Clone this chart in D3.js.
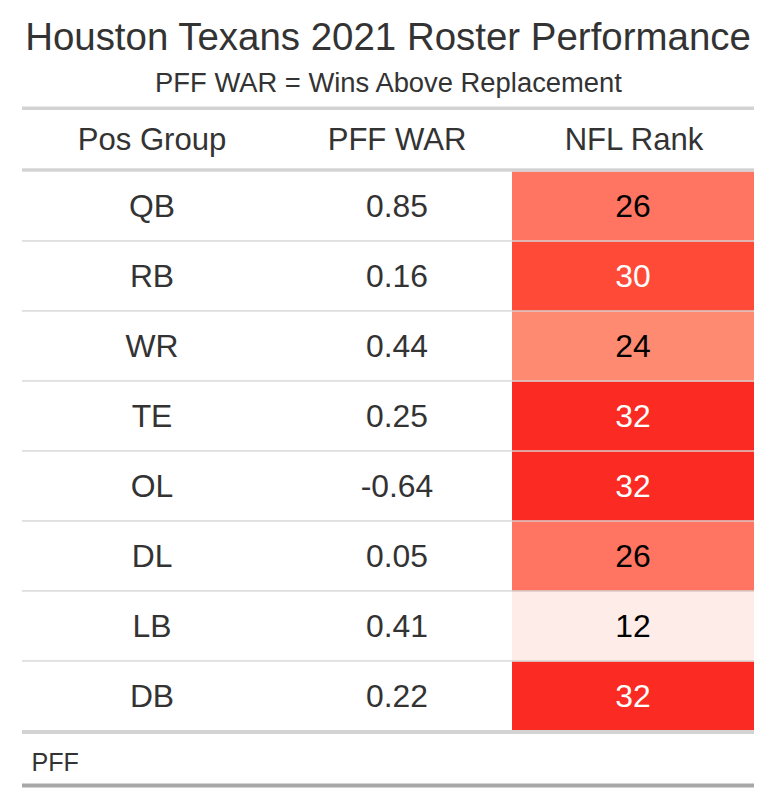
<!DOCTYPE html>
<html>
<head>
<meta charset="utf-8">
<script src="https://cdn.jsdelivr.net/npm/d3@7"></script>
<style>
  html, body { margin: 0; padding: 0; background: #ffffff; }
  svg text { font-family: "Liberation Sans", Arial, Helvetica, sans-serif; }
</style>
</head>
<body>
<div id="chart"></div>
<script>
// ---- data ----
const title = "Houston Texans 2021 Roster Performance";
const subtitle = "PFF WAR = Wins Above Replacement";
const columnLabels = ["Pos Group", "PFF WAR", "NFL Rank"];
const posGroups = ["QB", "RB", "WR", "TE", "OL", "DL", "LB", "DB"];
const pffWar = [0.85, 0.16, 0.44, 0.25, -0.64, 0.05, 0.41, 0.22];
const nflRank = [26, 30, 24, 32, 32, 26, 12, 32];
const sourceNote = "PFF";
const rankColorDomain = [12, 24, 26, 30, 32];
const rankColorRange = ["#FEECE8", "#FF8A72", "#FF7562", "#FF4A38", "#FB2A22"];

// ---- layout ----
const W = 774, H = 808;
const tableLeft = 22, tableRight = 754;
const colEdges = [22, 282, 512, 754];
const textColor = "#333333";

const svg = d3.select("#chart").append("svg")
  .attr("width", W).attr("height", H);

function fit(sel, target) {
  sel.style("font-size", "100px");
  const len = sel.node().getComputedTextLength();
  const size = 100 * target / len;
  sel.style("font-size", size + "px");
  return size;
}

// Title & subtitle
const t = svg.append("text").attr("x", 388).attr("y", 50)
  .attr("text-anchor", "middle").attr("fill", textColor).text(title);
fit(t, 726);
const st = svg.append("text").attr("x", 388.5).attr("y", 91.5)
  .attr("text-anchor", "middle").attr("fill", textColor).text(subtitle);
fit(st, 467);

const colCenter = i => (colEdges[i] + colEdges[i + 1]) / 2;

// Top border
svg.append("rect").attr("x", tableLeft).attr("y", 106.5)
  .attr("width", tableRight - tableLeft).attr("height", 3.5).attr("fill", "#D3D3D3");

// Column labels
const headerWidths = [149, 131, 138];
const hdr = svg.selectAll("text.hdr").data(columnLabels).join("text")
  .attr("class", "hdr")
  .attr("x", (d, i) => colCenter(i) + (i === 2 ? 1 : 0))
  .attr("y", 150)
  .attr("text-anchor", "middle").attr("fill", textColor).text(d => d);
let hsize = 0;
hdr.each(function (d, i) { hsize += fit(d3.select(this), headerWidths[i]); });
hsize /= columnLabels.length;
hdr.style("font-size", (hsize * 1.02) + "px");

// Rows
const y = d3.scaleBand().domain(posGroups).range([171.5, 171.5 + 70 * posGroups.length]);
const color = d3.scaleLinear().domain(rankColorDomain).range(rankColorRange);
const locale = d3.formatLocale({ decimal: ".", thousands: ",", grouping: [3], currency: ["$", ""], minus: "-" });
const fmt = locale.format(".2f");

const rows = posGroups.map((p, i) => ({ pos: p, war: pffWar[i], rank: nflRank[i] }));

const g = svg.append("g");
g.selectAll("rect.cell").data(rows).join("rect")
  .attr("class", "cell")
  .attr("x", colEdges[2]).attr("y", d => y(d.pos))
  .attr("width", colEdges[3] - colEdges[2]).attr("height", y.bandwidth())
  .attr("fill", d => color(d.rank));

g.selectAll("rect.sep").data(rows.slice(0, -1)).join("rect")
  .attr("class", "sep")
  .attr("x", tableLeft).attr("y", d => y(d.pos) + y.bandwidth() - 1.2)
  .attr("width", tableRight - tableLeft).attr("height", 1.3)
  .attr("fill", "#D3D3D3");

const probe = svg.append("text").text(fmt(pffWar[0]));
const bodySize = fit(probe, 62);
probe.remove();

const rowText = (cls, x, fn, fill) => g.selectAll("text." + cls).data(rows).join("text")
  .attr("class", cls)
  .attr("x", x)
  .attr("y", d => y(d.pos) + 45.8)
  .attr("text-anchor", "middle")
  .style("font-size", bodySize + "px")
  .attr("fill", fill)
  .text(fn);

rowText("c0", colCenter(0), d => d.pos, textColor);
rowText("c1", colCenter(1), d => fmt(d.war), textColor);
rowText("c2", colCenter(2), d => d.rank, d => d.rank >= 30 ? "#FFFFFF" : "#000000");

svg.append("rect").attr("x", tableLeft).attr("y", 168.3)
  .attr("width", tableRight - tableLeft).attr("height", 3.4).attr("fill", "#D3D3D3");

const bodyBottom = y.range()[1];
svg.append("rect").attr("x", tableLeft).attr("y", bodyBottom - 1.5)
  .attr("width", tableRight - tableLeft).attr("height", 4).attr("fill", "#D3D3D3");

const sn = svg.append("text").attr("x", 31.5).attr("y", 771)
  .attr("fill", textColor).text(sourceNote);
fit(sn, 47.5);

svg.append("rect").attr("x", tableLeft).attr("y", 783.5)
  .attr("width", tableRight - tableLeft).attr("height", 4).attr("fill", "#A8A8A8");
</script>
</body>
</html>
